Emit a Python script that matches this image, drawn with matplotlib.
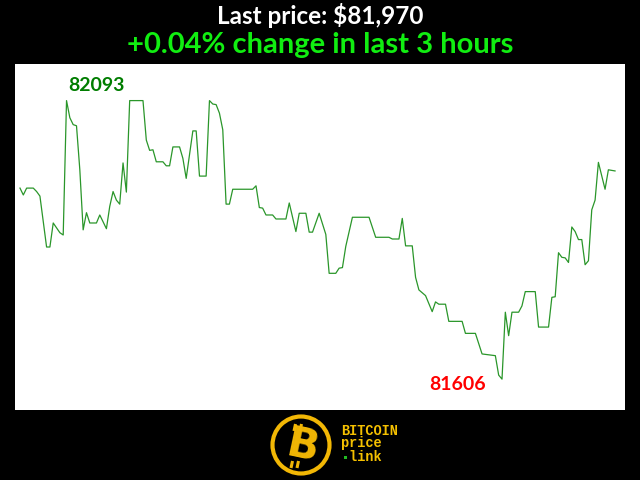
import matplotlib
matplotlib.use('Agg')
import matplotlib.pyplot as plt
from matplotlib.patches import Circle, Rectangle

# ---- data (minutes since start, price in USD) ----
minutes = [0, 1, 2, 4, 5, 6, 8, 9, 10, 12, 13, 14, 15, 16, 17, 18, 19, 20, 21, 23,
           24, 26, 27, 28, 29, 30, 31, 32, 33, 37, 38, 39, 40, 41, 43, 44, 45, 46, 48, 49,
           50, 52, 53, 54, 56, 57, 58, 59, 60, 61, 62, 63, 64, 70, 71, 72, 73, 74, 76, 77,
           80, 81, 83, 84, 86, 87, 88, 90, 92, 93, 95, 96, 97, 98, 100, 105, 107, 111, 112, 114,
           115, 116, 118, 119, 120, 122, 124, 125, 126, 128, 129, 133, 134, 137, 138, 139, 143, 144, 145, 146,
           147, 148, 150, 151, 152, 155, 156, 159, 160, 161, 162, 163, 164, 165, 166, 167, 168, 169, 170, 171,
           172, 173, 174, 176, 177, 179]
prices = [81940, 81928, 81940, 81940, 81934, 81926, 81837, 81837, 81879, 81862, 81858, 82093, 82063, 82051, 82049, 81972, 81867, 81897, 81879, 81879,
          81893, 81869, 81908, 81934, 81919, 81912, 81984, 81933, 82093, 82093, 82024, 82006, 82007, 81986, 81986, 81979, 81979, 82012, 82012, 81992,
          81957, 82040, 82040, 81961, 81961, 82093, 82087, 82086, 82071, 82042, 81912, 81912, 81938, 81938, 81944, 81906, 81905, 81893, 81893, 81886,
          81886, 81914, 81864, 81896, 81896, 81863, 81863, 81896, 81859, 81791, 81791, 81800, 81801, 81838, 81889, 81889, 81854, 81854, 81851, 81851,
          81887, 81839, 81839, 81784, 81762, 81752, 81724, 81741, 81737, 81737, 81707, 81707, 81686, 81686, 81668, 81650, 81647, 81613, 81606, 81723,
          81682, 81723, 81723, 81734, 81759, 81759, 81697, 81697, 81749, 81750, 81827, 81819, 81818, 81810, 81872, 81864, 81850, 81850, 81806, 81813,
          81902, 81919, 81985, 81938, 81972, 81970]
period_hours = 3

logo_lines = ["BITCOIN", "price", " link"]

# ---- derived values ----
last_price = prices[-1]
change_pct = (prices[-1] - prices[0]) / prices[0] * 100
i_max = prices.index(max(prices))
i_min = prices.index(min(prices))

title_font = ['Lato', 'DejaVu Sans']
GOLD = '#F2B705'

fig = plt.figure(figsize=(6.4, 4.8), dpi=100, facecolor='black')

ax = fig.add_axes([15 / 640, 70 / 480, 610 / 640, 346 / 480])
ax.set_facecolor('white')
ax.plot(minutes, prices, color='#2a962a', lw=0.9)
ax.set_xlim(-1.5, 182)
ax.set_ylim(81552, 82157)
ax.set_xticks([])
ax.set_yticks([])
for s in ax.spines.values():
    s.set_visible(False)

ax.annotate(f"{prices[i_max]}", (minutes[i_max], prices[i_max]),
            xytext=(1.2, 7), textcoords='offset points', ha='left', va='baseline',
            color='#007d00', fontsize=14, fontweight='bold', family=title_font)
ax.annotate(f"{prices[i_min]}", (minutes[i_min], prices[i_min]),
            xytext=(-11.3, -7.7), textcoords='offset points', ha='right', va='baseline',
            color='#ff0000', fontsize=14, fontweight='bold', family=title_font)

# titles
fig.text(0.5, 1 - 24 / 480, f"Last price: ${last_price:,}", ha='center', va='baseline',
         color='white', fontsize=17.5, fontweight='bold', family=title_font)
fig.text(0.5, 1 - 53 / 480, f"{change_pct:+.2f}% change in last {period_hours} hours",
         ha='center', va='baseline', color='#11ee11', fontsize=21, fontweight='bold',
         family=title_font)

# logo overlay in pixel coordinates
ov = fig.add_axes([0, 0, 1, 1])
ov.set_xlim(0, 640)
ov.set_ylim(480, 0)
ov.axis('off')
ov.patch.set_alpha(0)
ov.add_patch(Circle((301, 445), 28.5, facecolor='black', edgecolor=GOLD, lw=3))
ov.text(302, 447, "B", ha='center', va='center', rotation=-12, color=GOLD,
        fontsize=30, fontweight='heavy', family='DejaVu Sans')
for bx in (294, 300):
    ov.plot([bx, bx + 1.5], [431, 424], color=GOLD, lw=2.2, solid_capstyle='butt')
for bx in (291, 297):
    ov.plot([bx, bx + 1.5], [468, 461], color=GOLD, lw=2.2, solid_capstyle='butt')
for y, line in zip((431, 443.5, 457), logo_lines):
    ov.text(341, y, line, ha='left', va='center', color='#F5C000', fontsize=9.8,
            fontweight='bold', family=['Liberation Mono', 'DejaVu Sans Mono'])
ov.add_patch(Rectangle((344, 455.5), 3, 3, facecolor='#22bb22', edgecolor='none'))

fig.savefig('out.png', dpi=100, facecolor='black')
